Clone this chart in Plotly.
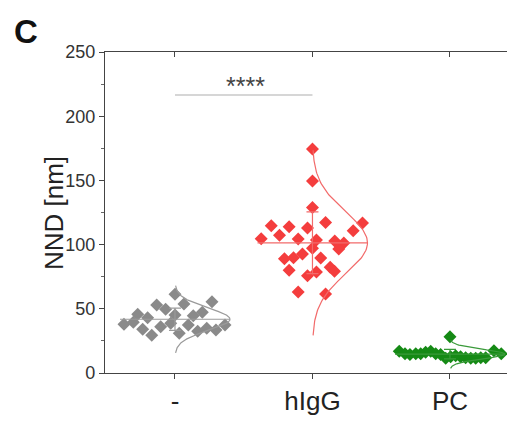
import numpy as np
import plotly.graph_objects as go

categories = ["-", "hIgG", "PC"]

# NND values (nm)
ctrl_vals = [37.9, 39.5, 45.7, 34.0, 43.1, 29.4, 53.0, 36.1, 49.6, 38.7, 61.3,
             45.2, 30.9, 53.7, 37.4, 44.6, 32.5, 47.3, 34.8, 55.5, 33.5, 37.4]
ctrl_jit = [-0.371, -0.303, -0.271, -0.235, -0.199, -0.169, -0.133, -0.104, -0.068,
            -0.031, 0.0, 0.0, 0.031, 0.065, 0.097, 0.133, 0.165, 0.199, 0.231,
            0.269, 0.298, 0.364]

higg_vals = [174.5, 149.5, 128.8, 114.7, 113.9, 117.3, 116.8, 110.8, 112.9, 107.2,
             104.6, 104.4, 103.6, 102.8, 101.2, 96.6, 97.1, 92.7, 89.8, 89.0, 89.6,
             80.0, 75.8, 78.7, 82.3, 79.2, 63.1, 61.5]
higg_jit = [0.0, 0.0, 0.0, -0.30, -0.17, 0.095, 0.364, 0.296, -0.036, -0.24,
            -0.373, -0.104, 0.029, 0.162, 0.228, 0.191, 0.0, -0.073, -0.138, -0.204,
            0.06, -0.17, -0.036, 0.029, 0.129, 0.16, -0.104, 0.095]

pc_vals = [16.9, 15.0, 14.5, 15.0, 15.0, 16.1, 16.9, 15.0, 14.5, 11.4, 28.3, 12.7,
           13.5, 12.7, 11.9, 11.4, 11.4, 11.9, 11.9, 17.4, 15.0]
pc_jit = [-0.369, -0.327, -0.291, -0.249, -0.213, -0.177, -0.140, -0.104, -0.068,
          -0.031, 0.0, 0.005, 0.041, 0.077, 0.114, 0.151, 0.187, 0.224, 0.26, 0.32,
          0.373]

groups = [ctrl_vals, higg_vals, pc_vals]
jitters = [ctrl_jit, higg_jit, pc_jit]
marker_colors = ["#8a8a8a", "#f43d3d", "#158a15"]
line_colors = ["#9a9a9a", "#f26a6a", "#3a9a3a"]

sig_label = "****"
sig_y = 216.5

fig = go.Figure()

for i, (vals, jit) in enumerate(zip(groups, jitters)):
    vals = np.array(vals)
    m = vals.mean()
    sd = vals.std(ddof=1)
    # points
    fig.add_trace(go.Scatter(
        x=[i + j for j in jit], y=vals, mode="markers",
        marker=dict(symbol="diamond", size=10, color=marker_colors[i],
                    line=dict(width=0)),
        showlegend=False, hoverinfo="y"))
    # mean line
    fig.add_trace(go.Scatter(
        x=[i - 0.4, i + 0.4], y=[m, m], mode="lines",
        line=dict(color=line_colors[i], width=1.2), showlegend=False,
        hoverinfo="skip"))
    # SD error bar
    fig.add_trace(go.Scatter(
        x=[i], y=[m], mode="markers", marker=dict(size=0.1, color=line_colors[i]),
        error_y=dict(type="data", array=[sd], visible=True, color=line_colors[i],
                     thickness=1.2, width=6),
        showlegend=False, hoverinfo="skip"))
    # normal curve
    z = np.linspace(-3, 3, 121)
    fig.add_trace(go.Scatter(
        x=i + 0.4 * np.exp(-z ** 2 / 2), y=m + z * sd, mode="lines",
        line=dict(color=line_colors[i], width=1.2), showlegend=False,
        hoverinfo="skip"))

# significance bar
fig.add_trace(go.Scatter(x=[0, 1], y=[sig_y, sig_y], mode="lines",
                         line=dict(color="#c8c8c8", width=1.5),
                         showlegend=False, hoverinfo="skip"))
fig.add_annotation(x=0.515, y=sig_y, text=sig_label, showarrow=False,
                   yanchor="bottom", yshift=-7,
                   font=dict(family="Liberation Sans, Arial", size=25, color="#444"))

# invisible trace for top axis
fig.add_trace(go.Scatter(x=[0], y=[0], xaxis="x2", mode="markers",
                         marker=dict(opacity=0), showlegend=False, hoverinfo="skip"))

xr = [-0.509, 2.473]
fig.update_layout(
    width=507, height=414,
    margin=dict(l=97, r=0, t=44, b=49),
    paper_bgcolor="white", plot_bgcolor="white",
    font=dict(family="Liberation Sans, Arial", color="#333"),
    xaxis=dict(range=xr, tickvals=[0, 1, 2], ticktext=categories,
               showline=True, linecolor="#444", linewidth=1.3,
               ticks="outside", ticklen=5, tickcolor="#444",
               showgrid=False, zeroline=False,
               tickfont=dict(size=26, color="#222")),
    xaxis2=dict(range=xr, overlaying="x", side="top", tickvals=[0, 1, 2],
                showticklabels=False, showline=True, linecolor="#444",
                linewidth=1.3, ticks="inside", ticklen=5, tickcolor="#444",
                showgrid=False, zeroline=False),
    yaxis=dict(range=[0, 250], tickvals=[0, 50, 100, 150, 200, 250],
               showline=True, linecolor="#444", linewidth=1.3,
               ticks="outside", ticklen=5, tickcolor="#444",
               minor=dict(ticks="outside", ticklen=3, tickcolor="#666",
                          dtick=25, tick0=0),
               showgrid=False, zeroline=False,
               tickfont=dict(size=18, color="#333")),
)

fig.add_annotation(xref="paper", yref="paper", x=-0.166, y=0.498,
                   text="NND [nm]", textangle=-90, showarrow=False,
                   font=dict(family="Liberation Sans, Arial", size=26, color="#222"))
fig.add_annotation(xref="paper", yref="paper", x=-0.228, y=1.065,
                   xanchor="left", yanchor="middle",
                   text="<b>C</b>", showarrow=False,
                   font=dict(family="Liberation Sans, Arial", size=33, color="#111"))

fig.write_html("out.html")
